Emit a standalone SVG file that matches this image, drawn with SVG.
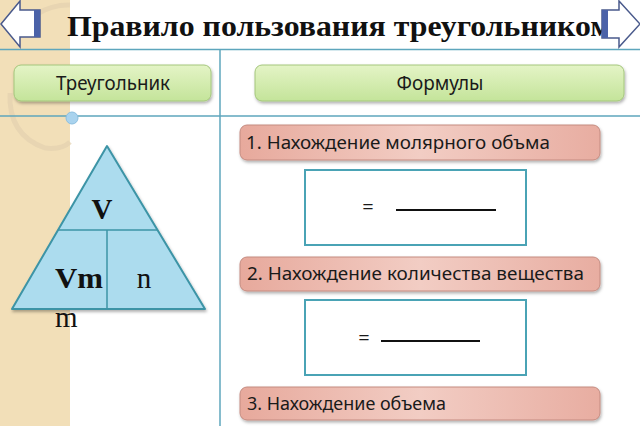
<svg xmlns="http://www.w3.org/2000/svg" width="640" height="426" viewBox="0 0 640 426">
<defs>
<style>
.line{stroke:#5ea6bd;stroke-width:1.5;fill:none}
.sans{font-family:"Noto Sans","Open Sans","Liberation Sans",sans-serif;fill:#1a1a1a}
.serif{font-family:"Liberation Serif","Times New Roman",serif;fill:#111}
.green{fill:url(#gGreen);stroke:#a4c67c;stroke-width:1}
.pink{fill:url(#gPink);stroke:#c48b80;stroke-width:1}
.fbox{fill:#fff;stroke:#4aa3b5;stroke-width:2}
.arrow{fill:#fff;stroke:#4a5a8c;stroke-width:1.5}
.bar{fill:#4b62a8}
</style>
<linearGradient id="gGreen" x1="0" y1="0" x2="0" y2="1">
<stop offset="0" stop-color="#e4f4c6"/><stop offset="1" stop-color="#c4e49a"/>
</linearGradient>
<linearGradient id="gPink" x1="0" y1="0" x2="1" y2="0">
<stop offset="0" stop-color="#e7a99c"/><stop offset="0.5" stop-color="#f2cdc4"/><stop offset="1" stop-color="#e8ada1"/>
</linearGradient>
<filter id="sh" x="-5%" y="-20%" width="110%" height="150%">
<feDropShadow dx="1" dy="2" stdDeviation="1.5" flood-color="#000" flood-opacity="0.3"/>
</filter>
</defs>
<rect width="640" height="426" fill="#fff"/>
<!-- left strip -->
<rect x="0" y="0" width="70" height="426" fill="#f2dfb8"/>
<g fill="none" stroke="#e4d2b0" stroke-width="5" opacity="0.7">
<path d="M14 40 A60 60 0 0 1 70 5"/>
<path d="M10 93 Q8 135 45 148 Q62 150 70 142"/>
</g>
<!-- grid lines -->
<line class="line" x1="0" y1="49.5" x2="640" y2="49.5"/>
<line class="line" x1="0" y1="116" x2="640" y2="116"/>
<line class="line" x1="220" y1="49.5" x2="220" y2="426"/>
<circle cx="72" cy="118" r="6" fill="#a9d3ee" stroke="#8cbfe0" stroke-width="1"/>
<!-- title -->
<text class="serif" x="67" y="36" font-size="30" font-weight="bold" textLength="545" lengthAdjust="spacingAndGlyphs">Правило пользования треугольником</text>
<!-- arrows -->
<g id="arrow-left">
<path class="arrow" d="M1 24 L20 1 L20 10 L40 10 L40 37 L20 37 L20 47 Z"/>
<rect class="bar" x="34" y="10" width="6" height="27"/>
</g>
<g id="arrow-right">
<path class="arrow" d="M602 10 L619 10 L619 1 L640 24 L619 47 L619 38 L602 38 Z"/>
<rect class="bar" x="602" y="10" width="6" height="28"/>
</g>
<!-- headers -->
<g id="hdr-triangle">
<rect class="green" x="14" y="65" width="197" height="36" rx="7" filter="url(#sh)"/>
<text class="sans" x="113" y="90" font-size="19" text-anchor="middle" textLength="114" lengthAdjust="spacingAndGlyphs">Треугольник</text>
</g>
<g id="hdr-formulas">
<rect class="green" x="255" y="65" width="369" height="36" rx="7" filter="url(#sh)"/>
<text class="sans" x="440" y="90" font-size="19" text-anchor="middle" textLength="87" lengthAdjust="spacingAndGlyphs">Формулы</text>
</g>
<!-- triangle -->
<g id="triangle">
<path d="M107 146 L205 309 L12 309 Z" fill="#acdcee" stroke="#3c94a6" stroke-width="2" stroke-linejoin="round" filter="url(#sh)"/>
<line x1="58" y1="230" x2="157" y2="230" stroke="#3c94a6" stroke-width="1.5"/>
<line x1="107" y1="230" x2="107" y2="309" stroke="#3c94a6" stroke-width="1.5"/>
<text class="serif" x="102" y="219" font-size="29" font-weight="bold" text-anchor="middle">V</text>
<text class="serif" x="55" y="288" font-size="29" font-weight="bold" textLength="48" lengthAdjust="spacingAndGlyphs">Vm</text>
<text class="serif" x="144" y="288" font-size="29" text-anchor="middle">n</text>
<text class="serif" x="55" y="327" font-size="29">m</text>
</g>
<!-- formula 1 -->
<g id="f1">
<rect class="pink" x="240" y="125" width="360" height="35" rx="7" filter="url(#sh)"/>
<text class="sans" x="246" y="149" font-size="18" textLength="304" lengthAdjust="spacingAndGlyphs">1. Нахождение молярного объма</text>
</g>
<g id="f1-box">
<rect class="fbox" x="305" y="170" width="221" height="75"/>
<text class="sans" x="368" y="214" font-size="20" text-anchor="middle" fill="#555">=</text>
<line x1="396" y1="210" x2="496" y2="210" stroke="#111" stroke-width="2"/>
</g>
<!-- formula 2 -->
<g id="f2">
<rect class="pink" x="240" y="257" width="360" height="34" rx="7" filter="url(#sh)"/>
<text class="sans" x="247" y="280" font-size="18" textLength="337" lengthAdjust="spacingAndGlyphs">2. Нахождение количества вещества</text>
</g>
<g id="f2-box">
<rect class="fbox" x="305" y="300" width="221" height="75"/>
<text class="sans" x="364" y="345" font-size="20" text-anchor="middle" fill="#555">=</text>
<line x1="381" y1="341" x2="480" y2="341" stroke="#111" stroke-width="2"/>
</g>
<!-- formula 3 -->
<g id="f3">
<rect class="pink" x="240" y="387" width="360" height="33" rx="7" filter="url(#sh)"/>
<text class="sans" x="247" y="410" font-size="18" textLength="199" lengthAdjust="spacingAndGlyphs">3. Нахождение объема</text>
</g>
</svg>
